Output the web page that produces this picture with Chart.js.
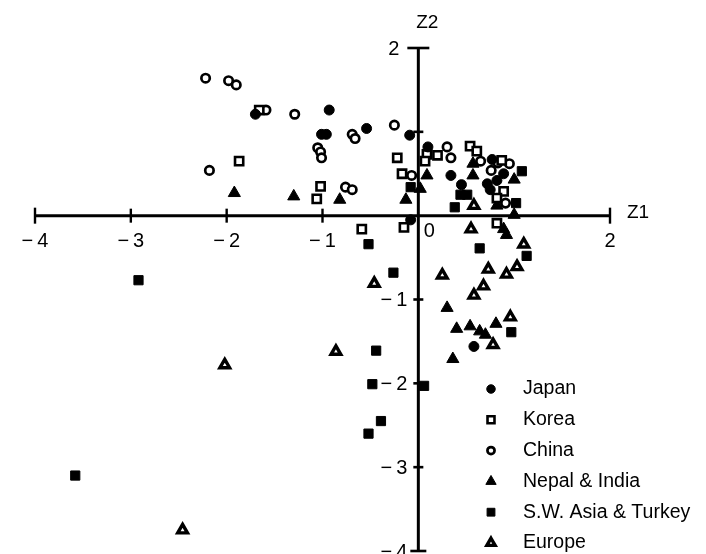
<!DOCTYPE html>
<html>
<head>
<meta charset="utf-8">
<script src="https://cdn.jsdelivr.net/npm/chart.js@4.4.1/dist/chart.umd.min.js"></script>
<style>
  html, body { margin: 0; padding: 0; background: #fff; }
  #wrap { width: 706px; height: 554px; }
</style>
</head>
<body>
<div id="wrap"><canvas id="grafico"></canvas></div>
<script>
// Datos (Z1, Z2)
const categorias = ["Japan", "Korea", "China", "Nepal & India", "S.W. Asia & Turkey", "Europe"];

const japan = [[-1.70,1.21],[-0.93,1.26],[-1.01,0.97],[-0.96,0.97],[-0.54,1.04],[-0.09,0.96],[0.10,0.82],
  [0.34,0.48],[0.45,0.37],[0.72,0.38],[0.75,0.31],[0.82,0.42],[0.89,0.50],[0.77,0.67],[-0.08,-0.05],[0.58,-1.56]];

const korea = [[-1.66,1.26],[-1.87,0.65],[-1.02,0.35],[-1.06,0.20],[-0.22,0.69],[-0.17,0.50],[0.09,0.73],
  [0.20,0.72],[0.07,0.65],[0.54,0.83],[0.61,0.77],[0.87,0.66],[0.89,0.29],[0.82,0.21],[0.82,-0.09],
  [-0.59,-0.16],[-0.15,-0.14]];

const china = [[-2.22,1.64],[-1.98,1.61],[-1.90,1.56],[-1.59,1.26],[-1.29,1.21],[-0.69,0.97],[-0.66,0.92],
  [-0.25,1.08],[-1.05,0.81],[-1.02,0.76],[-1.01,0.69],[-2.18,0.54],[-0.76,0.34],[-0.69,0.31],[-0.07,0.48],
  [0.30,0.82],[0.34,0.69],[0.65,0.65],[0.76,0.54],[0.95,0.62],[0.91,0.15],[0.83,0.63]];

const nepalIndia = [[-1.92,0.27],[-1.30,0.23],[-0.82,0.19],[-0.13,0.19],[0.02,0.32],[0.09,0.48],[0.57,0.62],
  [0.57,0.48],[1.00,0.43],[0.82,0.12],[1.00,0.01],[0.89,-0.16],[0.92,-0.23],[0.30,-1.10],[0.40,-1.35],
  [0.54,-1.32],[0.64,-1.38],[0.70,-1.42],[0.81,-1.29],[0.36,-1.71]];

const swAsiaTurkey = [[-0.08,0.34],[1.08,0.53],[0.44,0.25],[0.51,0.25],[0.38,0.10],[1.02,0.15],[-0.52,-0.34],
  [0.64,-0.39],[1.13,-0.48],[-0.26,-0.68],[0.97,-1.39],[-0.44,-1.61],[-0.48,-2.01],[0.06,-2.03],
  [-0.39,-2.45],[-0.52,-2.60],[-2.92,-0.77],[-3.58,-3.10]];

const europe = [[0.58,0.12],[0.55,-0.16],[1.10,-0.34],[1.03,-0.61],[0.73,-0.64],[0.92,-0.70],[0.25,-0.71],
  [0.68,-0.84],[0.58,-0.95],[-0.46,-0.81],[0.96,-1.21],[0.78,-1.54],[-0.86,-1.62],[-2.02,-1.78],[-2.46,-3.75]];

// Marcas y etiquetas de los ejes
const xTicks = [-4, -3, -2, -1, 2];
const xLabels = [-4, -3, -2, -1, 0, 2];
const yTicks = [-4, -3, -2, -1, 1, 2];
const yLabels = [-4, -3, -2, -1, 2];

const FONT = '"Liberation Sans", Arial, sans-serif';

function toPoints(arr) {
  return arr.map(p => ({ x: p[0], y: p[1] }));
}

function fmt(v) {
  return v < 0 ? "\u2212\u2009" + Math.abs(v) : String(v);
}

// ----------- Estilos de cada serie -----------
const estilos = [
  { pointStyle: "circle",   pointRadius: 5.0, backgroundColor: "#000", borderColor: "#000", borderWidth: 1 },
  { pointStyle: "rect",     pointRadius: 5.8, backgroundColor: "#fff", borderColor: "#000", borderWidth: 2.6 },
  { pointStyle: "circle",   pointRadius: 4.2, backgroundColor: "#fff", borderColor: "#000", borderWidth: 2.7 },
  { pointStyle: "triangle", pointRadius: 7.0, backgroundColor: "#000", borderColor: "#000", borderWidth: 1 },
  { pointStyle: "rect",     pointRadius: 6.5, backgroundColor: "#000", borderColor: "#000", borderWidth: 1 },
  { pointStyle: "triangle", pointRadius: 5.6, backgroundColor: "#fff", borderColor: "#000", borderWidth: 3.4 }
];

const series = [japan, korea, china, nepalIndia, swAsiaTurkey, europe];

// ----------- Plugin: ejes cruzados en el origen -----------
const ejesPlugin = {
  id: "ejes",
  beforeDatasetsDraw(chart) {
    const { ctx, scales: { x, y } } = chart;
    const x0 = x.getPixelForValue(0);
    const y0 = y.getPixelForValue(0);
    ctx.save();
    ctx.strokeStyle = "#000";
    ctx.lineCap = "butt";

    // eje Z1
    ctx.lineWidth = 3;
    ctx.beginPath();
    ctx.moveTo(x.getPixelForValue(-4), y0);
    ctx.lineTo(x.getPixelForValue(2), y0);
    ctx.stroke();

    ctx.lineWidth = 2.4;
    xTicks.forEach(v => {
      const px = x.getPixelForValue(v);
      const h = (v === -4 || v === 2) ? 8 : 7;
      ctx.beginPath();
      ctx.moveTo(px, y0 - h);
      ctx.lineTo(px, y0 + h);
      ctx.stroke();
    });

    // eje Z2
    ctx.lineWidth = 3;
    ctx.beginPath();
    ctx.moveTo(x0, y.getPixelForValue(2));
    ctx.lineTo(x0, y.getPixelForValue(-4));
    ctx.stroke();

    ctx.lineWidth = 2.6;
    yTicks.forEach(v => {
      const py = y.getPixelForValue(v);
      const w = v === 2 ? 11 : (v === -4 ? 8 : 5);
      ctx.beginPath();
      ctx.moveTo(x0 - w, py);
      ctx.lineTo(x0 + w, py);
      ctx.stroke();
    });

    // etiquetas
    ctx.fillStyle = "#000";
    ctx.font = "20px " + FONT;
    ctx.textBaseline = "middle";
    ctx.textAlign = "center";
    xLabels.forEach(v => {
      if (v === 0) {
        ctx.fillText("0", x0 + 11, y0 + 16);
      } else {
        ctx.fillText(fmt(v), x.getPixelForValue(v), y0 + 26);
      }
    });
    ctx.textAlign = "right";
    yLabels.forEach(v => {
      const off = v === 2 ? 19 : 11;
      ctx.fillText(fmt(v), x0 - off, y.getPixelForValue(v) + 1);
    });

    ctx.font = "19px " + FONT;
    ctx.textAlign = "left";
    ctx.fillText("Z1", x.getPixelForValue(2) + 17, y0 - 3);
    ctx.textAlign = "center";
    ctx.fillText("Z2", x0 + 9, y.getPixelForValue(2) - 25);
    ctx.restore();
  },
  // ----------- Leyenda dentro del area -----------
  afterDraw(chart) {
    const { ctx } = chart;
    ctx.save();
    ctx.font = "19.5px " + FONT;
    ctx.textBaseline = "middle";
    ctx.textAlign = "left";
    chart.data.datasets.forEach((ds, i) => {
      const cy = 389 + i * 30.8;
      ctx.fillStyle = ds.backgroundColor;
      ctx.strokeStyle = ds.borderColor;
      ctx.lineWidth = ds.borderWidth;
      Chart.helpers.drawPoint(ctx, {
        pointStyle: ds.pointStyle,
        radius: ds.pointRadius * 0.85,
        rotation: 0,
        borderWidth: ds.borderWidth
      }, 491, cy);
      ctx.fillStyle = "#000";
      ctx.fillText(ds.label, 523, cy);
    });
    ctx.restore();
  }
};

function renderGrafico() {
  const ctx = document.getElementById("grafico");
  new Chart(ctx, {
    type: "scatter",
    data: {
      datasets: series.map((s, i) => Object.assign({
        label: categorias[i],
        data: toPoints(s),
        pointHoverRadius: estilos[i].pointRadius,
        clip: false
      }, estilos[i]))
    },
    options: {
      responsive: true,
      maintainAspectRatio: false,
      animation: false,
      layout: { autoPadding: false, padding: { left: 35, right: 96, top: 48, bottom: 3 } },
      scales: {
        x: { type: "linear", min: -4, max: 2, display: false },
        y: { type: "linear", min: -4, max: 2, display: false }
      },
      plugins: { legend: { display: false }, tooltip: { enabled: false } }
    },
    plugins: [ejesPlugin]
  });
}

document.addEventListener("DOMContentLoaded", renderGrafico);
</script>
</body>
</html>
